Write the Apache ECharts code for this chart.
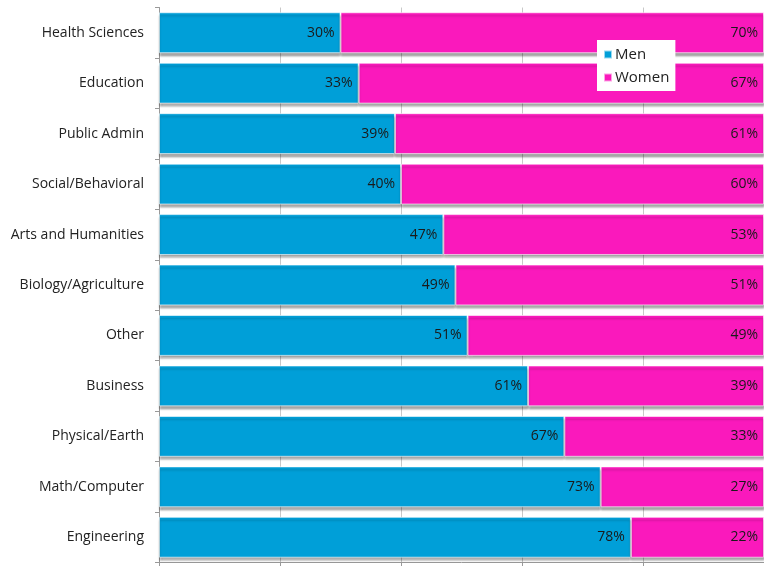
<!DOCTYPE html>
<html>
<head>
<meta charset="utf-8">
<script src="https://cdn.jsdelivr.net/npm/echarts@6/dist/echarts.min.js"></script>
<style>
  html, body { margin: 0; padding: 0; background: #fff; }
  #chart { width: 764px; height: 566px; }
</style>
</head>
<body>
<div id="chart"></div>
<script>
// Share of degrees by field, split by gender (percent)
const fields = [
  'Health Sciences', 'Education', 'Public Admin', 'Social/Behavioral',
  'Arts and Humanities', 'Biology/Agriculture', 'Other', 'Business',
  'Physical/Earth', 'Math/Computer', 'Engineering'
];
const men   = [30, 33, 39, 40, 47, 49, 51, 61, 67, 73, 78];
const women = [70, 67, 61, 60, 53, 51, 49, 39, 33, 27, 22];
const xTicks = [0, 20, 40, 60, 80, 100];

const FONT = 'Open Sans';
const barShadow = {
  shadowColor: 'rgba(0,0,0,0.35)',
  shadowBlur: 2,
  shadowOffsetY: 3,
  borderColor: 'rgba(255,255,255,0.6)',
  borderWidth: 1
};

const chart = echarts.init(document.getElementById('chart'), null, { renderer: 'canvas' });
chart.setOption({
  animation: false,
  textStyle: { fontFamily: FONT },
  grid: { left: 159, right: 0, top: 7.5, bottom: 3.5, containLabel: false },
  legend: {
    orient: 'vertical',
    left: 597, top: 40,
    backgroundColor: '#fff',
    padding: [7, 6, 6, 6],
    itemWidth: 8, itemHeight: 8, itemGap: 8,
    icon: 'rect',
    textStyle: { fontFamily: FONT, fontSize: 15, color: '#222', padding: [0, 0, 0, -2] },
    data: ['Men', 'Women']
  },
  xAxis: {
    type: 'value',
    min: xTicks[0], max: xTicks[xTicks.length - 1], interval: 20,
    axisLine: { show: true, lineStyle: { color: '#999' } },
    axisTick: { show: true, length: 4, lineStyle: { color: '#999' } },
    axisLabel: { show: false },
    splitLine: { show: true, lineStyle: { color: '#c8c8c8' } }
  },
  yAxis: {
    type: 'category',
    data: fields,
    inverse: true,
    axisLine: { show: true, lineStyle: { color: '#999' } },
    axisTick: { show: true, length: 4, lineStyle: { color: '#999' } },
    axisLabel: { fontFamily: FONT, fontSize: 14, color: '#222', margin: 15,
                 padding: [3, 0, 0, 0] },
    splitLine: { show: false }
  },
  series: [
    {
      name: 'Men', type: 'bar', stack: 'total', data: men,
      barCategoryGap: '19%',
      itemStyle: Object.assign({ color: '#009fd8' }, barShadow),
      label: { show: true, position: 'insideRight', formatter: '{c}%', distance: 6,
               fontFamily: FONT, fontSize: 14, color: '#1a1a1a' }
    },
    {
      name: 'Women', type: 'bar', stack: 'total', data: women,
      itemStyle: Object.assign({ color: '#fa19bc' }, barShadow),
      label: { show: true, position: 'insideRight', formatter: '{c}%', distance: 6,
               fontFamily: FONT, fontSize: 14, color: '#1a1a1a' }
    }
  ]
});
</script>
</body>
</html>
